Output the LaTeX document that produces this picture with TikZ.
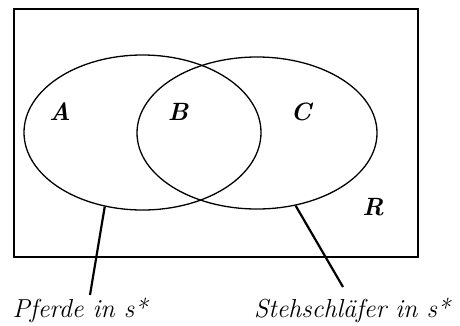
\documentclass[tikz,border=0pt]{standalone}
\usetikzlibrary{shapes.geometric}
\begin{document}
\begin{tikzpicture}[x=1pt,y=-1pt,
  setel/.style={draw,ellipse,inner sep=0pt,line width=1.3pt},
  region/.style={font=\fontsize{25}{28}\selectfont\bfseries\itshape},
  lbl/.style={font=\fontsize{26}{30}\selectfont\itshape,inner sep=0pt},
  conn/.style={line width=2.2pt}]
\useasboundingbox (0,0) rectangle (460,325);
\node[draw,line width=2pt,minimum width=404pt,minimum height=248pt,inner sep=0pt] (univ) at (216,132.5) {};
\node[setel,minimum width=237pt,minimum height=155pt] (e1) at (142.5,132.5) {};
\node[setel,minimum width=240pt,minimum height=152pt] (e2) at (257,133) {};
\node[region] (a) at (60,112) {A};
\node[region] (b) at (178,112) {B};
\node[region] (c) at (301,112) {C};
\node[region] (r) at (373,207) {R};
\node[lbl] (pf) at (80,310) {Pferde in s*};
\node[lbl] (st) at (352,310) {Stehschläfer in s*};
\coordinate (pfend) at (90,295);
\coordinate (stend) at (343,287);
\draw[conn] (e1.243) -- (pfend);
\draw[conn] (e2.298) -- (stend);
\end{tikzpicture}
\end{document}
